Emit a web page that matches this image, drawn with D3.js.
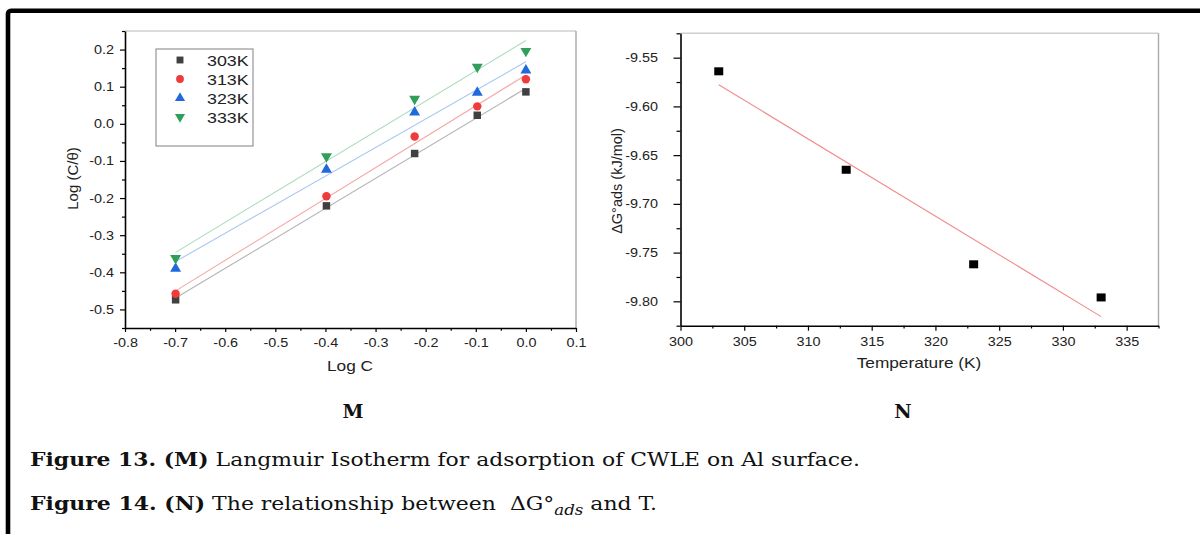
<!DOCTYPE html>
<html>
<head>
<meta charset="utf-8">
<script src="https://cdn.jsdelivr.net/npm/d3@7"></script>
<style>
  body { margin: 0; background: #fff; }
  svg { display: block; font-family: "Liberation Sans", Arial, sans-serif; }
</style>
</head>
<body>
<div id="chart"></div>
<script>
// Panel M: Langmuir isotherm, log C vs log (C/theta)
const logC = [-0.699, -0.398, -0.222, -0.097, 0];
const seriesNames = ["303K", "313K", "323K", "333K"];
const y303 = [-0.474, -0.221, -0.080, 0.023, 0.086];
const y313 = [-0.458, -0.195, -0.034, 0.047, 0.120];
const y323 = [-0.390, -0.123, 0.031, 0.084, 0.144];
const y333 = [-0.362, -0.088, 0.067, 0.153, 0.196];
const xTicksM = [-0.8, -0.7, -0.6, -0.5, -0.4, -0.3, -0.2, -0.1, 0, 0.1];
const yTicksM = [-0.5, -0.4, -0.3, -0.2, -0.1, 0, 0.1, 0.2];

// Panel N: delta G ads vs temperature
const tempK = [303, 313, 323, 333];
const dGads = [-9.564, -9.665, -9.762, -9.796];
const xTicksN = [300, 305, 310, 315, 320, 325, 330, 335];
const yTicksN = [-9.80, -9.75, -9.70, -9.65, -9.60, -9.55];

const markColors = ["#404040", "#ef3b3b", "#2068dd", "#2f9f5b"];
const lineColors = ["#b4b4b4", "#f6a9a9", "#a9c7f1", "#acdcbd"];
const markShapes = [d3.symbolSquare, d3.symbolCircle, d3.symbolTriangle, d3.symbolTriangle];
const markSizes = [56, 56, 52, 52];
const markRotate = [0, 0, 0, 180];
const ySeries = [y303, y313, y323, y333];

const svg = d3.select("#chart").append("svg")
  .attr("width", 1200)
  .attr("height", 534);

// The source picture is stretched sideways a little
const sx = 1.15;
function stretch(sel) {
  sel.each(function() {
    const len = this.getComputedTextLength();
    this.setAttribute("textLength", len * sx);
    this.setAttribute("lengthAdjust", "spacingAndGlyphs");
  });
}

// least squares fit, used for the trend lines
function fit(xs, ys) {
  const mx = d3.mean(xs), my = d3.mean(ys);
  let sxy = 0, sxx = 0;
  xs.forEach((x, i) => { sxy += (x - mx) * (ys[i] - my); sxx += (x - mx) * (x - mx); });
  const b = sxy / sxx;
  return x => my + b * (x - mx);
}

// page border
svg.append("rect")
  .attr("x", 8).attr("y", 10.8)
  .attr("width", 1400).attr("height", 700)
  .attr("rx", 3)
  .attr("fill", "none")
  .attr("stroke", "#000")
  .attr("stroke-width", 4.6);

function drawFrame(x, y, xt, yt, fmt, opt) {
  const [x0, x1] = x.range();
  const [y0, y1] = y.range();
  const g = svg.append("g");
  // top and right edges in light gray
  g.append("line").attr("x1", x0).attr("x2", x1).attr("y1", y1).attr("y2", y1)
    .attr("stroke", "#cfcfcf").attr("stroke-width", 1.6);
  g.append("line").attr("x1", x1).attr("x2", x1).attr("y1", y1).attr("y2", y0)
    .attr("stroke", "#aaaaaa").attr("stroke-width", 1.4);

  const minorX = d3.range(xt.length * 2 + 2).map(i => xt[0] + (xt[1] - xt[0]) * i / 2)
    .filter(v => v > x.domain()[0] + 1e-9 && v <= x.domain()[1] + 1e-9 && !xt.some(t => Math.abs(t - v) < 1e-9));
  const minorY = d3.range(yt.length * 2 + 2).map(i => yt[0] + (yt[1] - yt[0]) * (i - 1) / 2)
    .filter(v => v > y.domain()[0] - 1e-9 && v < y.domain()[1] + 1e-9 && !yt.some(t => Math.abs(t - v) < 1e-9));

  g.append("g").attr("transform", `translate(0,${y0})`)
    .call(d3.axisBottom(x).tickValues(minorX).tickSize(2.8).tickFormat(""))
    .call(a => a.select(".domain").remove());
  g.append("g").attr("transform", `translate(${x0},0)`)
    .call(d3.axisLeft(y).tickValues(minorY).tickSize(opt.minorY).tickFormat(""))
    .call(a => a.select(".domain").remove());

  const ax = g.append("g").attr("transform", `translate(0,${y0})`)
    .call(d3.axisBottom(x).tickValues(xt).tickSize(opt.tickX).tickPadding(opt.padX)
      .tickFormat(d => fmt.x(d)).tickSizeOuter(0));
  const ay = g.append("g").attr("transform", `translate(${x0},0)`)
    .call(d3.axisLeft(y).tickValues(yt).tickSize(opt.tickY).tickPadding(opt.padY)
      .tickFormat(d => fmt.y(d)).tickSizeOuter(0));

  [ax, ay].forEach(a => {
    a.select(".domain").attr("stroke", "#000").attr("stroke-width", 1.6);
    a.selectAll("text").attr("font-size", "12.5px").attr("fill", "#222")
      .attr("font-family", "'Liberation Sans', Arial, sans-serif");
    stretch(a.selectAll("text"));
  });
  g.selectAll(".tick line").attr("stroke", "#000").attr("stroke-width", 1.2);
  return g;
}

// ---------- Panel M ----------
const xM = d3.scaleLinear().domain([-0.8, 0.1]).range([125, 576]);
const yM = d3.scaleLinear().domain([-0.55, 0.25]).range([328, 31]);

drawFrame(xM, yM, xTicksM, yTicksM,
  { x: d => d.toFixed(1), y: d => d.toFixed(1) },
  { tickX: 4, padX: 6, tickY: 5, padY: 6, minorY: 3 });

const gM = svg.append("g");
ySeries.forEach((ys, i) => {
  const f = fit(logC, ys);
  const xa = d3.min(logC), xb = d3.max(logC);
  gM.append("line")
    .attr("x1", xM(xa)).attr("y1", yM(f(xa)))
    .attr("x2", xM(xb)).attr("y2", yM(f(xb)))
    .attr("stroke", lineColors[i]).attr("stroke-width", 1.1);
});
ySeries.forEach((ys, i) => {
  gM.selectAll(null).data(ys).join("path")
    .attr("d", d3.symbol(markShapes[i], markSizes[i]))
    .attr("transform", (d, j) => `translate(${xM(logC[j])},${yM(d)}) rotate(${markRotate[i]})`)
    .attr("fill", markColors[i]);
});

// legend
const leg = svg.append("g");
leg.append("rect")
  .attr("x", 156).attr("y", 49).attr("width", 97).attr("height", 97)
  .attr("fill", "#fff").attr("stroke", "#808080").attr("stroke-width", 1);
const legRows = [60, 79, 98, 117];
seriesNames.forEach((name, i) => {
  leg.append("path")
    .attr("d", d3.symbol(markShapes[i], markSizes[i] * 0.85))
    .attr("transform", `translate(180,${legRows[i]}) rotate(${markRotate[i]})`)
    .attr("fill", markColors[i]);
  leg.append("text")
    .attr("x", 207).attr("y", legRows[i] + 5.5)
    .attr("font-size", "15.5px").attr("fill", "#222")
    .text(name);
});
stretch(leg.selectAll("text"));

const tM = svg.append("text")
  .attr("x", 350).attr("y", 371)
  .attr("text-anchor", "middle").attr("font-size", "15px").attr("fill", "#222")
  .text("Log C");
stretch(tM);
svg.append("text")
  .attr("transform", "translate(78,178.5) rotate(-90)")
  .attr("text-anchor", "middle").attr("font-size", "15px").attr("fill", "#222")
  .text("Log (C/θ)");

// ---------- Panel N ----------
const xN = d3.scaleLinear().domain([300, 337.5]).range([680.5, 1158.5]);
const yN = d3.scaleLinear().domain([-9.825, -9.525]).range([325.7, 33.3]);

drawFrame(xN, yN, xTicksN, yTicksN,
  { x: d => String(d), y: d => d.toFixed(2) },
  { tickX: 5, padX: 6.5, tickY: 7, padY: 15.5, minorY: 4 });

const gN = svg.append("g");
const fN = fit(tempK, dGads);
gN.append("line")
  .attr("x1", xN(d3.min(tempK))).attr("y1", yN(fN(d3.min(tempK))))
  .attr("x2", xN(d3.max(tempK))).attr("y2", yN(fN(d3.max(tempK))))
  .attr("stroke", "#f28b8b").attr("stroke-width", 1.1);
gN.selectAll(null).data(dGads).join("rect")
  .attr("x", (d, i) => xN(tempK[i]) - 4.5)
  .attr("y", d => yN(d) - 4)
  .attr("width", 9).attr("height", 8)
  .attr("fill", "#000");

const tN = svg.append("text")
  .attr("x", 919).attr("y", 368)
  .attr("text-anchor", "middle").attr("font-size", "15px").attr("fill", "#222")
  .text("Temperature (K)");
stretch(tN);
svg.append("text")
  .attr("transform", "translate(622,181) rotate(-90)")
  .attr("text-anchor", "middle").attr("font-size", "14.5px").attr("fill", "#222")
  .text("ΔG°ads (kJ/mol)");

// ---------- panel letters and captions ----------
const serif = "'DejaVu Serif', 'Liberation Serif', serif";
[["M", 353], ["N", 903]].forEach(([s, x]) => {
  svg.append("text")
    .attr("x", x).attr("y", 418)
    .attr("text-anchor", "middle")
    .style("font-family", serif).attr("font-weight", "bold").attr("font-size", "19px")
    .attr("fill", "#111")
    .text(s);
});

const cap1 = svg.append("text")
  .attr("x", 30).attr("y", 466)
  .style("font-family", serif).attr("font-size", "18.5px").attr("fill", "#111")
  .attr("textLength", 830).attr("lengthAdjust", "spacingAndGlyphs")
  .style("white-space", "pre");
cap1.append("tspan").attr("font-weight", "bold").text("Figure 13. (M)");
cap1.append("tspan").text(" Langmuir Isotherm for adsorption of CWLE on Al surface.");

const cap2 = svg.append("text")
  .attr("x", 30).attr("y", 510)
  .style("font-family", serif).attr("font-size", "18.5px").attr("fill", "#111")
  .attr("textLength", 627).attr("lengthAdjust", "spacingAndGlyphs")
  .style("white-space", "pre");
cap2.append("tspan").attr("font-weight", "bold").text("Figure 14. (N)");
cap2.append("tspan").text(" The relationship between  ΔG°");
cap2.append("tspan").attr("font-style", "italic").attr("font-size", "14px").attr("dy", 5).text("ads");
cap2.append("tspan").attr("dy", -5).text(" and T.");
</script>
</body>
</html>
